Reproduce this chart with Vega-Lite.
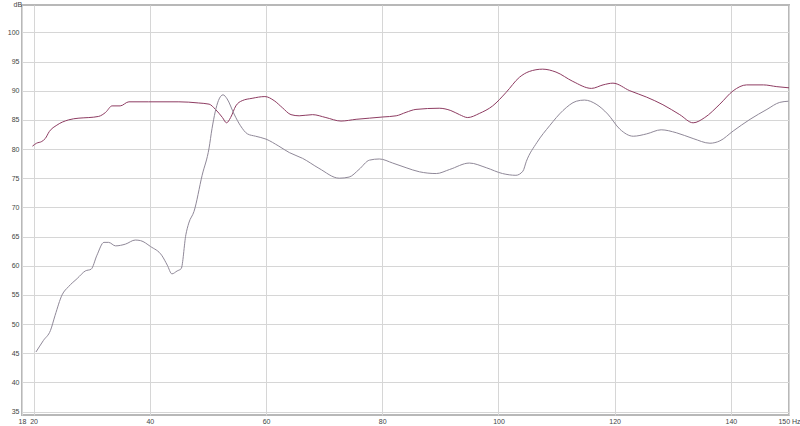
{
  "$schema": "https://vega.github.io/schema/vega-lite/v6.json",
  "autosize": {"type": "none"},
  "padding": {"left": 22, "top": 5, "right": 11, "bottom": 11},
  "width": 767,
  "height": 410,
  "background": "white",
  "config": {
    "view": {"stroke": "#b8b8b8", "strokeWidth": 2},
    "font": "Liberation Sans"
  },
  "data": {
    "values": [
      {"series": "A", "f": 19.8, "db": 80.5}, {"series": "A", "f": 20.5, "db": 81.0},
      {"series": "A", "f": 21.4, "db": 81.3}, {"series": "A", "f": 22.0, "db": 81.8},
      {"series": "A", "f": 22.7, "db": 83.0}, {"series": "A", "f": 24.0, "db": 84.1},
      {"series": "A", "f": 26.0, "db": 85.0}, {"series": "A", "f": 27.8, "db": 85.3},
      {"series": "A", "f": 29.5, "db": 85.4}, {"series": "A", "f": 31.2, "db": 85.6},
      {"series": "A", "f": 32.4, "db": 86.3}, {"series": "A", "f": 33.5, "db": 87.4},
      {"series": "A", "f": 34.9, "db": 87.4}, {"series": "A", "f": 36.4, "db": 88.1},
      {"series": "A", "f": 39.8, "db": 88.1}, {"series": "A", "f": 45.0, "db": 88.1},
      {"series": "A", "f": 48.4, "db": 87.9}, {"series": "A", "f": 50.2, "db": 87.7},
      {"series": "A", "f": 51.3, "db": 86.8}, {"series": "A", "f": 52.5, "db": 85.4},
      {"series": "A", "f": 53.2, "db": 84.5}, {"series": "A", "f": 53.9, "db": 85.4},
      {"series": "A", "f": 54.8, "db": 87.4}, {"series": "A", "f": 55.9, "db": 88.3},
      {"series": "A", "f": 57.6, "db": 88.7}, {"series": "A", "f": 59.8, "db": 89.0},
      {"series": "A", "f": 61.4, "db": 88.3}, {"series": "A", "f": 62.8, "db": 87.1},
      {"series": "A", "f": 64.3, "db": 85.9}, {"series": "A", "f": 65.7, "db": 85.7},
      {"series": "A", "f": 68.0, "db": 85.9}, {"series": "A", "f": 70.3, "db": 85.4},
      {"series": "A", "f": 72.9, "db": 84.8}, {"series": "A", "f": 75.5, "db": 85.1},
      {"series": "A", "f": 77.8, "db": 85.3}, {"series": "A", "f": 80.1, "db": 85.5},
      {"series": "A", "f": 82.4, "db": 85.7}, {"series": "A", "f": 84.1, "db": 86.3},
      {"series": "A", "f": 85.8, "db": 86.8}, {"series": "A", "f": 89.8, "db": 87.0},
      {"series": "A", "f": 91.8, "db": 86.6}, {"series": "A", "f": 93.3, "db": 85.9},
      {"series": "A", "f": 94.7, "db": 85.4}, {"series": "A", "f": 96.7, "db": 86.1},
      {"series": "A", "f": 99.0, "db": 87.4}, {"series": "A", "f": 101.3, "db": 89.7},
      {"series": "A", "f": 103.6, "db": 92.3}, {"series": "A", "f": 105.3, "db": 93.3},
      {"series": "A", "f": 107.6, "db": 93.7}, {"series": "A", "f": 109.9, "db": 93.2},
      {"series": "A", "f": 112.8, "db": 91.6}, {"series": "A", "f": 116.0, "db": 90.4},
      {"series": "A", "f": 118.0, "db": 91.0}, {"series": "A", "f": 119.7, "db": 91.3},
      {"series": "A", "f": 122.6, "db": 90.0}, {"series": "A", "f": 125.5, "db": 88.9},
      {"series": "A", "f": 128.3, "db": 87.6}, {"series": "A", "f": 131.2, "db": 85.9},
      {"series": "A", "f": 133.5, "db": 84.5}, {"series": "A", "f": 135.5, "db": 85.4},
      {"series": "A", "f": 138.1, "db": 87.7}, {"series": "A", "f": 140.4, "db": 90.0},
      {"series": "A", "f": 142.7, "db": 91.0}, {"series": "A", "f": 145.6, "db": 91.0},
      {"series": "A", "f": 147.9, "db": 90.7}, {"series": "A", "f": 150.0, "db": 90.5},

      {"series": "B", "f": 20.4, "db": 45.2}, {"series": "B", "f": 21.7, "db": 47.2},
      {"series": "B", "f": 22.9, "db": 48.9}, {"series": "B", "f": 23.7, "db": 51.5},
      {"series": "B", "f": 24.9, "db": 55.0}, {"series": "B", "f": 26.0, "db": 56.4},
      {"series": "B", "f": 27.5, "db": 57.8}, {"series": "B", "f": 28.9, "db": 59.1},
      {"series": "B", "f": 29.9, "db": 59.4}, {"series": "B", "f": 30.9, "db": 61.8},
      {"series": "B", "f": 32.1, "db": 64.0}, {"series": "B", "f": 32.9, "db": 64.0},
      {"series": "B", "f": 34.1, "db": 63.4}, {"series": "B", "f": 35.8, "db": 63.7},
      {"series": "B", "f": 37.5, "db": 64.4}, {"series": "B", "f": 38.4, "db": 64.3},
      {"series": "B", "f": 40.1, "db": 63.3}, {"series": "B", "f": 42.1, "db": 61.7},
      {"series": "B", "f": 43.0, "db": 60.1}, {"series": "B", "f": 43.8, "db": 58.6},
      {"series": "B", "f": 44.7, "db": 59.1}, {"series": "B", "f": 45.4, "db": 59.5},
      {"series": "B", "f": 46.2, "db": 65.3}, {"series": "B", "f": 46.7, "db": 67.3},
      {"series": "B", "f": 47.6, "db": 69.3}, {"series": "B", "f": 49.0, "db": 75.5},
      {"series": "B", "f": 50.2, "db": 80.2}, {"series": "B", "f": 50.7, "db": 83.5},
      {"series": "B", "f": 51.8, "db": 88.3}, {"series": "B", "f": 52.6, "db": 89.3},
      {"series": "B", "f": 53.3, "db": 88.6}, {"series": "B", "f": 54.5, "db": 86.0},
      {"series": "B", "f": 55.6, "db": 84.0}, {"series": "B", "f": 56.8, "db": 82.6},
      {"series": "B", "f": 58.2, "db": 82.2}, {"series": "B", "f": 60.0, "db": 81.7},
      {"series": "B", "f": 62.2, "db": 80.5}, {"series": "B", "f": 64.0, "db": 79.4},
      {"series": "B", "f": 66.3, "db": 78.4}, {"series": "B", "f": 69.1, "db": 76.7},
      {"series": "B", "f": 72.6, "db": 75.0}, {"series": "B", "f": 74.3, "db": 75.2},
      {"series": "B", "f": 76.0, "db": 76.5}, {"series": "B", "f": 77.8, "db": 78.1},
      {"series": "B", "f": 79.5, "db": 78.3}, {"series": "B", "f": 81.8, "db": 77.6},
      {"series": "B", "f": 84.1, "db": 76.8}, {"series": "B", "f": 86.4, "db": 76.1},
      {"series": "B", "f": 89.3, "db": 75.8}, {"series": "B", "f": 91.6, "db": 76.5},
      {"series": "B", "f": 95.0, "db": 77.6}, {"series": "B", "f": 97.9, "db": 76.8},
      {"series": "B", "f": 100.7, "db": 75.8}, {"series": "B", "f": 103.0, "db": 75.5},
      {"series": "B", "f": 104.2, "db": 76.2}, {"series": "B", "f": 104.8, "db": 77.9},
      {"series": "B", "f": 106.6, "db": 81.1}, {"series": "B", "f": 108.8, "db": 84.0},
      {"series": "B", "f": 111.1, "db": 86.6}, {"series": "B", "f": 113.4, "db": 88.2},
      {"series": "B", "f": 114.8, "db": 88.4}, {"series": "B", "f": 116.8, "db": 87.7},
      {"series": "B", "f": 118.8, "db": 86.0}, {"series": "B", "f": 120.9, "db": 83.4},
      {"series": "B", "f": 123.2, "db": 82.2}, {"series": "B", "f": 125.5, "db": 82.6},
      {"series": "B", "f": 128.0, "db": 83.3}, {"series": "B", "f": 130.6, "db": 82.8},
      {"series": "B", "f": 133.5, "db": 81.8}, {"series": "B", "f": 136.4, "db": 81.0},
      {"series": "B", "f": 138.1, "db": 81.4}, {"series": "B", "f": 140.4, "db": 83.1},
      {"series": "B", "f": 143.3, "db": 85.1}, {"series": "B", "f": 146.2, "db": 86.8},
      {"series": "B", "f": 148.4, "db": 88.0}, {"series": "B", "f": 149.9, "db": 88.2}
    ]
  },
  "mark": {"type": "line", "interpolate": "monotone", "strokeWidth": 1, "clip": true},
  "encoding": {
    "x": {
      "field": "f",
      "type": "quantitative",
      "scale": {"domain": [18, 150], "nice": false, "zero": false},
      "axis": {
        "title": null,
        "values": [18, 20, 40, 60, 80, 100, 120, 140, 150],
        "labelExpr": "datum.value == 150 ? '150 Hz' : datum.label",
        "labelFontSize": 7,
        "labelColor": "#444",
        "labelPadding": 2,
        "tickSize": 0,
        "domain": false,
        "gridColor": "#d6d6d6",
        "labelFlush": false,
        "labelOverlap": false
      }
    },
    "y": {
      "field": "db",
      "type": "quantitative",
      "scale": {"domain": [34.4, 104.7], "nice": false, "zero": false},
      "axis": {
        "title": "dB",
        "titleAngle": 0,
        "titleAlign": "left",
        "titleBaseline": "top",
        "titleX": -9,
        "titleY": -5,
        "titleFontSize": 7,
        "titleFontWeight": "normal",
        "titleColor": "#444",
        "values": [35, 40, 45, 50, 55, 60, 65, 70, 75, 80, 85, 90, 95, 100],
        "labelFontSize": 7,
        "labelColor": "#444",
        "labelPadding": 3,
        "tickSize": 0,
        "domain": false,
        "gridColor": "#d6d6d6"
      }
    },
    "color": {
      "field": "series",
      "type": "nominal",
      "scale": {"domain": ["A", "B"], "range": ["#8e3c62", "#8f8898"]},
      "legend": null
    }
  }
}
